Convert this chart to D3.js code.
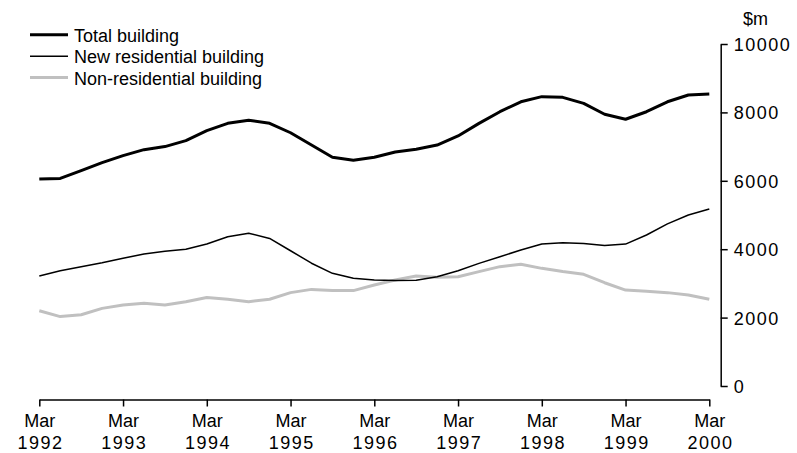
<!DOCTYPE html>
<html>
<head>
<meta charset="utf-8">
<script src="https://cdn.jsdelivr.net/npm/d3@7"></script>
<style>
  html, body { margin: 0; padding: 0; background: #fff; }
  svg { display: block; }
  text { font-family: "Liberation Sans", Arial, sans-serif; font-size: 18px; fill: #000; }
</style>
</head>
<body>
<svg id="chart" width="797" height="453"></svg>
<script>
// Quarterly, Mar 1992 .. Mar 2000 (33 quarters)
const quarterIndex = d3.range(33);
const yearTicks = [0, 4, 8, 12, 16, 20, 24, 28, 32];
const yearLabels = ["1992", "1993", "1994", "1995", "1996", "1997", "1998", "1999", "2000"];
const monthLabel = "Mar";
const yTicks = [0, 2000, 4000, 6000, 8000, 10000];
const unitLabel = "$m";

const seriesNames = ["Total building", "New residential building", "Non-residential building"];

const totalBuilding = [6050, 6070, 6300, 6530, 6735, 6910, 7000, 7175, 7465, 7680, 7770, 7680, 7405,
  7045, 6690, 6600, 6690, 6840, 6920, 7045, 7310, 7680, 8020, 8310, 8460, 8440, 8265, 7945, 7800,
  8020, 8310, 8510, 8540];
const newResidential = [3215, 3370, 3490, 3605, 3735, 3860, 3940, 4000, 4150, 4365, 4465, 4315, 3955,
  3590, 3295, 3150, 3100, 3085, 3095, 3195, 3370, 3585, 3780, 3975, 4150, 4190, 4170, 4105, 4150,
  4415, 4740, 5000, 5175];
const nonResidential = [2200, 2030, 2085, 2270, 2370, 2420, 2370, 2465, 2590, 2535, 2465, 2535, 2730,
  2825, 2790, 2790, 2955, 3100, 3215, 3180, 3195, 3345, 3490, 3560, 3440, 3345, 3265, 3020, 2805,
  2770, 2730, 2660, 2535];

const svg = d3.select("#chart");

const x = d3.scaleLinear().domain([0, 32]).range([39.3, 709.3]);
const y = d3.scaleLinear().domain([0, 10000]).range([386, 44]);

const styles = [
  { data: totalBuilding, color: "#000000", width: 3 },
  { data: newResidential, color: "#000000", width: 1.5 },
  { data: nonResidential, color: "#c0c0c0", width: 3 }
];

// X axis
const xAxis = d3.axisBottom(x)
  .tickValues(yearTicks)
  .tickSize(7)
  .tickSizeOuter(0)
  .tickFormat(() => "");
const gx = svg.append("g").attr("transform", "translate(0,399.5)").call(xAxis);
gx.select(".domain").attr("stroke", "#000").attr("stroke-width", 1.5);
gx.selectAll(".tick line").attr("stroke", "#000").attr("stroke-width", 1.5);
gx.selectAll(".tick text").remove();
gx.selectAll(".tick").each(function(d, i) {
  const t = d3.select(this).append("text")
    .attr("text-anchor", "middle")
    .attr("fill", "#000")
    .style("font-size", "18px");
  t.append("tspan").attr("x", 0).attr("y", 27.2).text(monthLabel);
  t.append("tspan").attr("x", 0.7).attr("y", 49.8).style("letter-spacing", "1.5px").text(yearLabels[i]);
});

// Y axis (right)
const yAxis = d3.axisRight(y)
  .tickValues(yTicks)
  .tickSize(7)
  .tickSizeOuter(0)
  .tickPadding(6)
  .tickFormat(d3.format("d"));
const gy = svg.append("g").attr("transform", "translate(720.7,0)").call(yAxis);
gy.select(".domain").attr("stroke", "#000").attr("stroke-width", 1.5);
gy.selectAll(".tick line").attr("stroke", "#000").attr("stroke-width", 1.5);
gy.selectAll(".tick text")
  .attr("fill", "#000")
  .attr("font-family", null)
  .attr("font-size", null)
  .style("font-size", "18px")
  .style("letter-spacing", "1.5px")
  .attr("dy", "0.36em");

svg.append("text").attr("x", 743).attr("y", 25).text(unitLabel);

// Lines (draw gray first so black lines overlay)
const line = d3.line().x((d, i) => x(quarterIndex[i])).y(d => y(d));
[2, 1, 0].forEach(k => {
  svg.append("path")
    .datum(styles[k].data)
    .attr("fill", "none")
    .attr("stroke", styles[k].color)
    .attr("stroke-width", styles[k].width)
    .attr("stroke-linejoin", "round")
    .attr("d", line);
});

// Legend
const legend = svg.append("g");
const legendBaselines = [41.7, 63.2, 84.5];
seriesNames.forEach((name, k) => {
  const by = legendBaselines[k];
  legend.append("line")
    .attr("x1", 30).attr("x2", 68)
    .attr("y1", by - 7).attr("y2", by - 7)
    .attr("stroke", styles[k].color)
    .attr("stroke-width", styles[k].width);
  legend.append("text").attr("x", 74).attr("y", by).text(name);
});
</script>
</body>
</html>
